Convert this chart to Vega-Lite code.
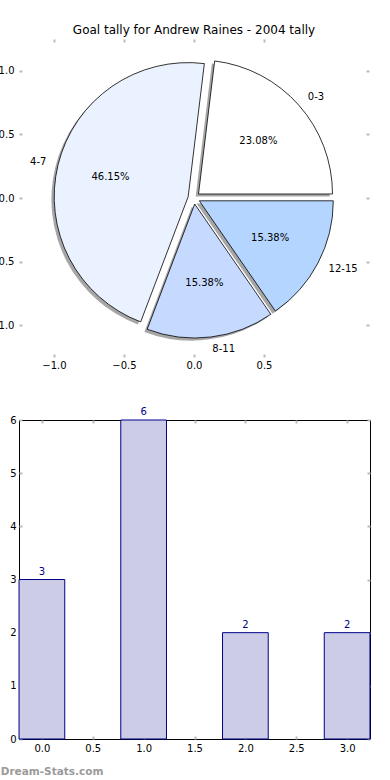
{
  "$schema": "https://vega.github.io/schema/vega-lite/v6.json",
  "padding": {"left": -11, "top": 24, "right": 0, "bottom": 2},
  "background": "white",
  "config": {"font": "DejaVu Sans", "axis": {"labelFont": "DejaVu Sans", "labelFontSize": 10, "labelColor": "#000000", "domain": false, "grid": false, "tickColor": "#bbbbbb", "tickWidth": 2, "tickSize": -3, "title": null}},
  "title": {"text": "Dream-Stats.com", "orient": "bottom", "anchor": "start", "frame": "bounds", "color": "#9a9a9a", "fontSize": 10.5, "fontWeight": "bold", "font": "DejaVu Sans", "offset": 13, "dx": 11},
  "datasets": {
    "goals": [
      {"label": "0-3", "value": 3, "i": 0, "pct": 0.2308},
      {"label": "4-7", "value": 6, "i": 1, "pct": 0.4615},
      {"label": "8-11", "value": 2, "i": 2, "pct": 0.1538},
      {"label": "12-15", "value": 2, "i": 3, "pct": 0.1538}
    ]
  },
  "spacing": 63,
  "bounds": "flush",
  "vconcat": [
    {
      "width": 350,
      "height": 318,
      "view": {"stroke": null},
      "title": {"text": "Goal tally for Andrew Raines - 2004 tally", "fontSize": 12, "fontWeight": "normal", "font": "DejaVu Sans", "color": "#000000", "offset": 1},
      "data": {"name": "goals"},
      "transform": [{"stack": "value", "groupby": [], "sort": [{"field": "i"}], "as": ["t0", "t1"]}],
      "layer": [
        {
          "mark": {"type": "point", "opacity": 0},
          "encoding": {
            "x": {"datum": 0, "type": "quantitative", "scale": {"domain": [-1.25, 1.25], "nice": false, "zero": false}, "axis": {"orient": "bottom", "values": [-1, -0.5, 0, 0.5], "format": ".1f", "labelPadding": 6}},
            "y": {"datum": 0, "type": "quantitative", "scale": {"domain": [-1.25, 1.25], "nice": false, "zero": false}, "axis": {"orient": "left", "values": [-1, -0.5, 0, 0.5, 1], "format": ".1f", "labelPadding": 8}}
          }
        },
        {
          "mark": {"type": "point", "opacity": 0},
          "encoding": {
            "x": {"datum": 0, "type": "quantitative", "axis": {"orient": "top", "values": [-1, -0.5, 0, 0.5], "labels": false}},
            "y": {"datum": 0, "type": "quantitative", "axis": {"orient": "right", "values": [-1, -0.5, 0, 0.5, 1], "labels": false}}
          }
        },
        {
          "transform": [{"filter": "datum.i == 0"}],
          "mark": {"type": "arc", "outerRadius": 134, "fill": "#4d4d4d", "opacity": 0.5, "xOffset": 1.7, "yOffset": -1.4},
          "encoding": {"theta": {"field": "t0", "type": "quantitative", "stack": null, "scale": {"domain": [0, 13], "range": [1.5708, -4.7124]}}, "theta2": {"field": "t1"}}
        },
        {
          "transform": [{"filter": "datum.i == 1"}],
          "mark": {"type": "arc", "outerRadius": 134, "fill": "#4d4d4d", "opacity": 0.5, "xOffset": -8.6, "yOffset": 1.2},
          "encoding": {"theta": {"field": "t0", "type": "quantitative", "stack": null, "scale": {"domain": [0, 13], "range": [1.5708, -4.7124]}}, "theta2": {"field": "t1"}}
        },
        {
          "transform": [{"filter": "datum.i == 2"}],
          "mark": {"type": "arc", "outerRadius": 134, "fill": "#4d4d4d", "opacity": 0.5, "xOffset": -2.1, "yOffset": 8.6},
          "encoding": {"theta": {"field": "t0", "type": "quantitative", "stack": null, "scale": {"domain": [0, 13], "range": [1.5708, -4.7124]}}, "theta2": {"field": "t1"}}
        },
        {
          "transform": [{"filter": "datum.i == 3"}],
          "mark": {"type": "arc", "outerRadius": 134, "fill": "#4d4d4d", "opacity": 0.5, "xOffset": 2.5, "yOffset": 5.4},
          "encoding": {"theta": {"field": "t0", "type": "quantitative", "stack": null, "scale": {"domain": [0, 13], "range": [1.5708, -4.7124]}}, "theta2": {"field": "t1"}}
        },
        {
          "transform": [{"filter": "datum.i == 0"}],
          "mark": {"type": "arc", "outerRadius": 134, "fill": "#ffffff", "stroke": "#000000", "strokeWidth": 0.8, "xOffset": 4.5, "yOffset": -4},
          "encoding": {"theta": {"field": "t0", "type": "quantitative", "stack": null, "scale": {"domain": [0, 13], "range": [1.5708, -4.7124]}}, "theta2": {"field": "t1"}}
        },
        {
          "transform": [{"filter": "datum.i == 1"}],
          "mark": {"type": "arc", "outerRadius": 134, "fill": "#ebf2ff", "stroke": "#000000", "strokeWidth": 0.8, "xOffset": -5.8, "yOffset": -1.4},
          "encoding": {"theta": {"field": "t0", "type": "quantitative", "stack": null, "scale": {"domain": [0, 13], "range": [1.5708, -4.7124]}}, "theta2": {"field": "t1"}}
        },
        {
          "transform": [{"filter": "datum.i == 2"}],
          "mark": {"type": "arc", "outerRadius": 134, "fill": "#c6d9ff", "stroke": "#000000", "strokeWidth": 0.8, "xOffset": 0.7, "yOffset": 6},
          "encoding": {"theta": {"field": "t0", "type": "quantitative", "stack": null, "scale": {"domain": [0, 13], "range": [1.5708, -4.7124]}}, "theta2": {"field": "t1"}}
        },
        {
          "transform": [{"filter": "datum.i == 3"}],
          "mark": {"type": "arc", "outerRadius": 134, "fill": "#b4d5ff", "stroke": "#000000", "strokeWidth": 0.8, "xOffset": 5.3, "yOffset": 2.8},
          "encoding": {"theta": {"field": "t0", "type": "quantitative", "stack": null, "scale": {"domain": [0, 13], "range": [1.5708, -4.7124]}}, "theta2": {"field": "t1"}}
        },
        {
          "mark": {"type": "text", "radius": 86, "fontSize": 10, "font": "DejaVu Sans", "color": "#000000"},
          "encoding": {
            "theta": {"field": "value", "type": "quantitative", "stack": true, "scale": {"domain": [0, 13], "range": [1.5708, -4.7124]}},
            "order": {"field": "i"},
            "text": {"field": "pct", "format": ".2%"}
          }
        },
        {
          "mark": {"type": "text", "radius": 152, "fontSize": 10, "font": "DejaVu Sans", "color": "#000000", "align": "left", "baseline": "middle"},
          "encoding": {
            "theta": {"field": "value", "type": "quantitative", "stack": true, "scale": {"domain": [0, 13], "range": [1.5708, -4.7124]}},
            "order": {"field": "i"},
            "text": {"condition": {"test": "datum.label == '4-7'", "value": ""}, "field": "label"}
          }
        },
        {
          "mark": {"type": "text", "radius": 152, "fontSize": 10, "font": "DejaVu Sans", "color": "#000000", "align": "right", "baseline": "middle"},
          "encoding": {
            "theta": {"field": "value", "type": "quantitative", "stack": true, "scale": {"domain": [0, 13], "range": [1.5708, -4.7124]}},
            "order": {"field": "i"},
            "text": {"condition": {"test": "datum.label != '4-7'", "value": ""}, "field": "label"}
          }
        }
      ],
      "resolve": {"axis": {"x": "independent", "y": "independent"}}
    },
    {
      "width": 351,
      "height": 319,
      "view": {"stroke": "#000000", "strokeWidth": 1},
      "data": {"name": "goals"},
      "layer": [
        {
          "mark": {"type": "bar", "width": 45.7, "fill": "#ccccE6", "stroke": "#00008b", "strokeWidth": 1},
          "encoding": {
            "x": {"field": "i", "type": "quantitative", "scale": {"domain": [-0.225, 3.225], "nice": false, "zero": false, "padding": 0}, "axis": {"orient": "bottom", "values": [0, 0.5, 1, 1.5, 2, 2.5, 3], "format": ".1f", "labelPadding": 7}},
            "y": {"field": "value", "type": "quantitative", "scale": {"domain": [0, 6], "nice": false, "padding": 0}, "axis": {"orient": "left", "values": [0, 1, 2, 3, 4, 5, 6], "format": "d", "labelPadding": 6}}
          }
        },
        {
          "mark": {"type": "text", "baseline": "bottom", "dy": -3, "color": "#00008b", "fontSize": 10, "font": "DejaVu Sans"},
          "encoding": {
            "x": {"field": "i", "type": "quantitative", "axis": null},
            "y": {"field": "value", "type": "quantitative", "axis": null},
            "text": {"field": "value"}
          }
        },
        {
          "mark": {"type": "point", "opacity": 0},
          "encoding": {
            "x": {"field": "i", "type": "quantitative", "axis": {"orient": "top", "values": [0, 0.5, 1, 1.5, 2, 2.5, 3], "labels": false}},
            "y": {"field": "value", "type": "quantitative", "axis": {"orient": "right", "values": [0, 1, 2, 3, 4, 5, 6], "labels": false}}
          }
        }
      ],
      "resolve": {"axis": {"x": "independent", "y": "independent"}}
    }
  ]
}
